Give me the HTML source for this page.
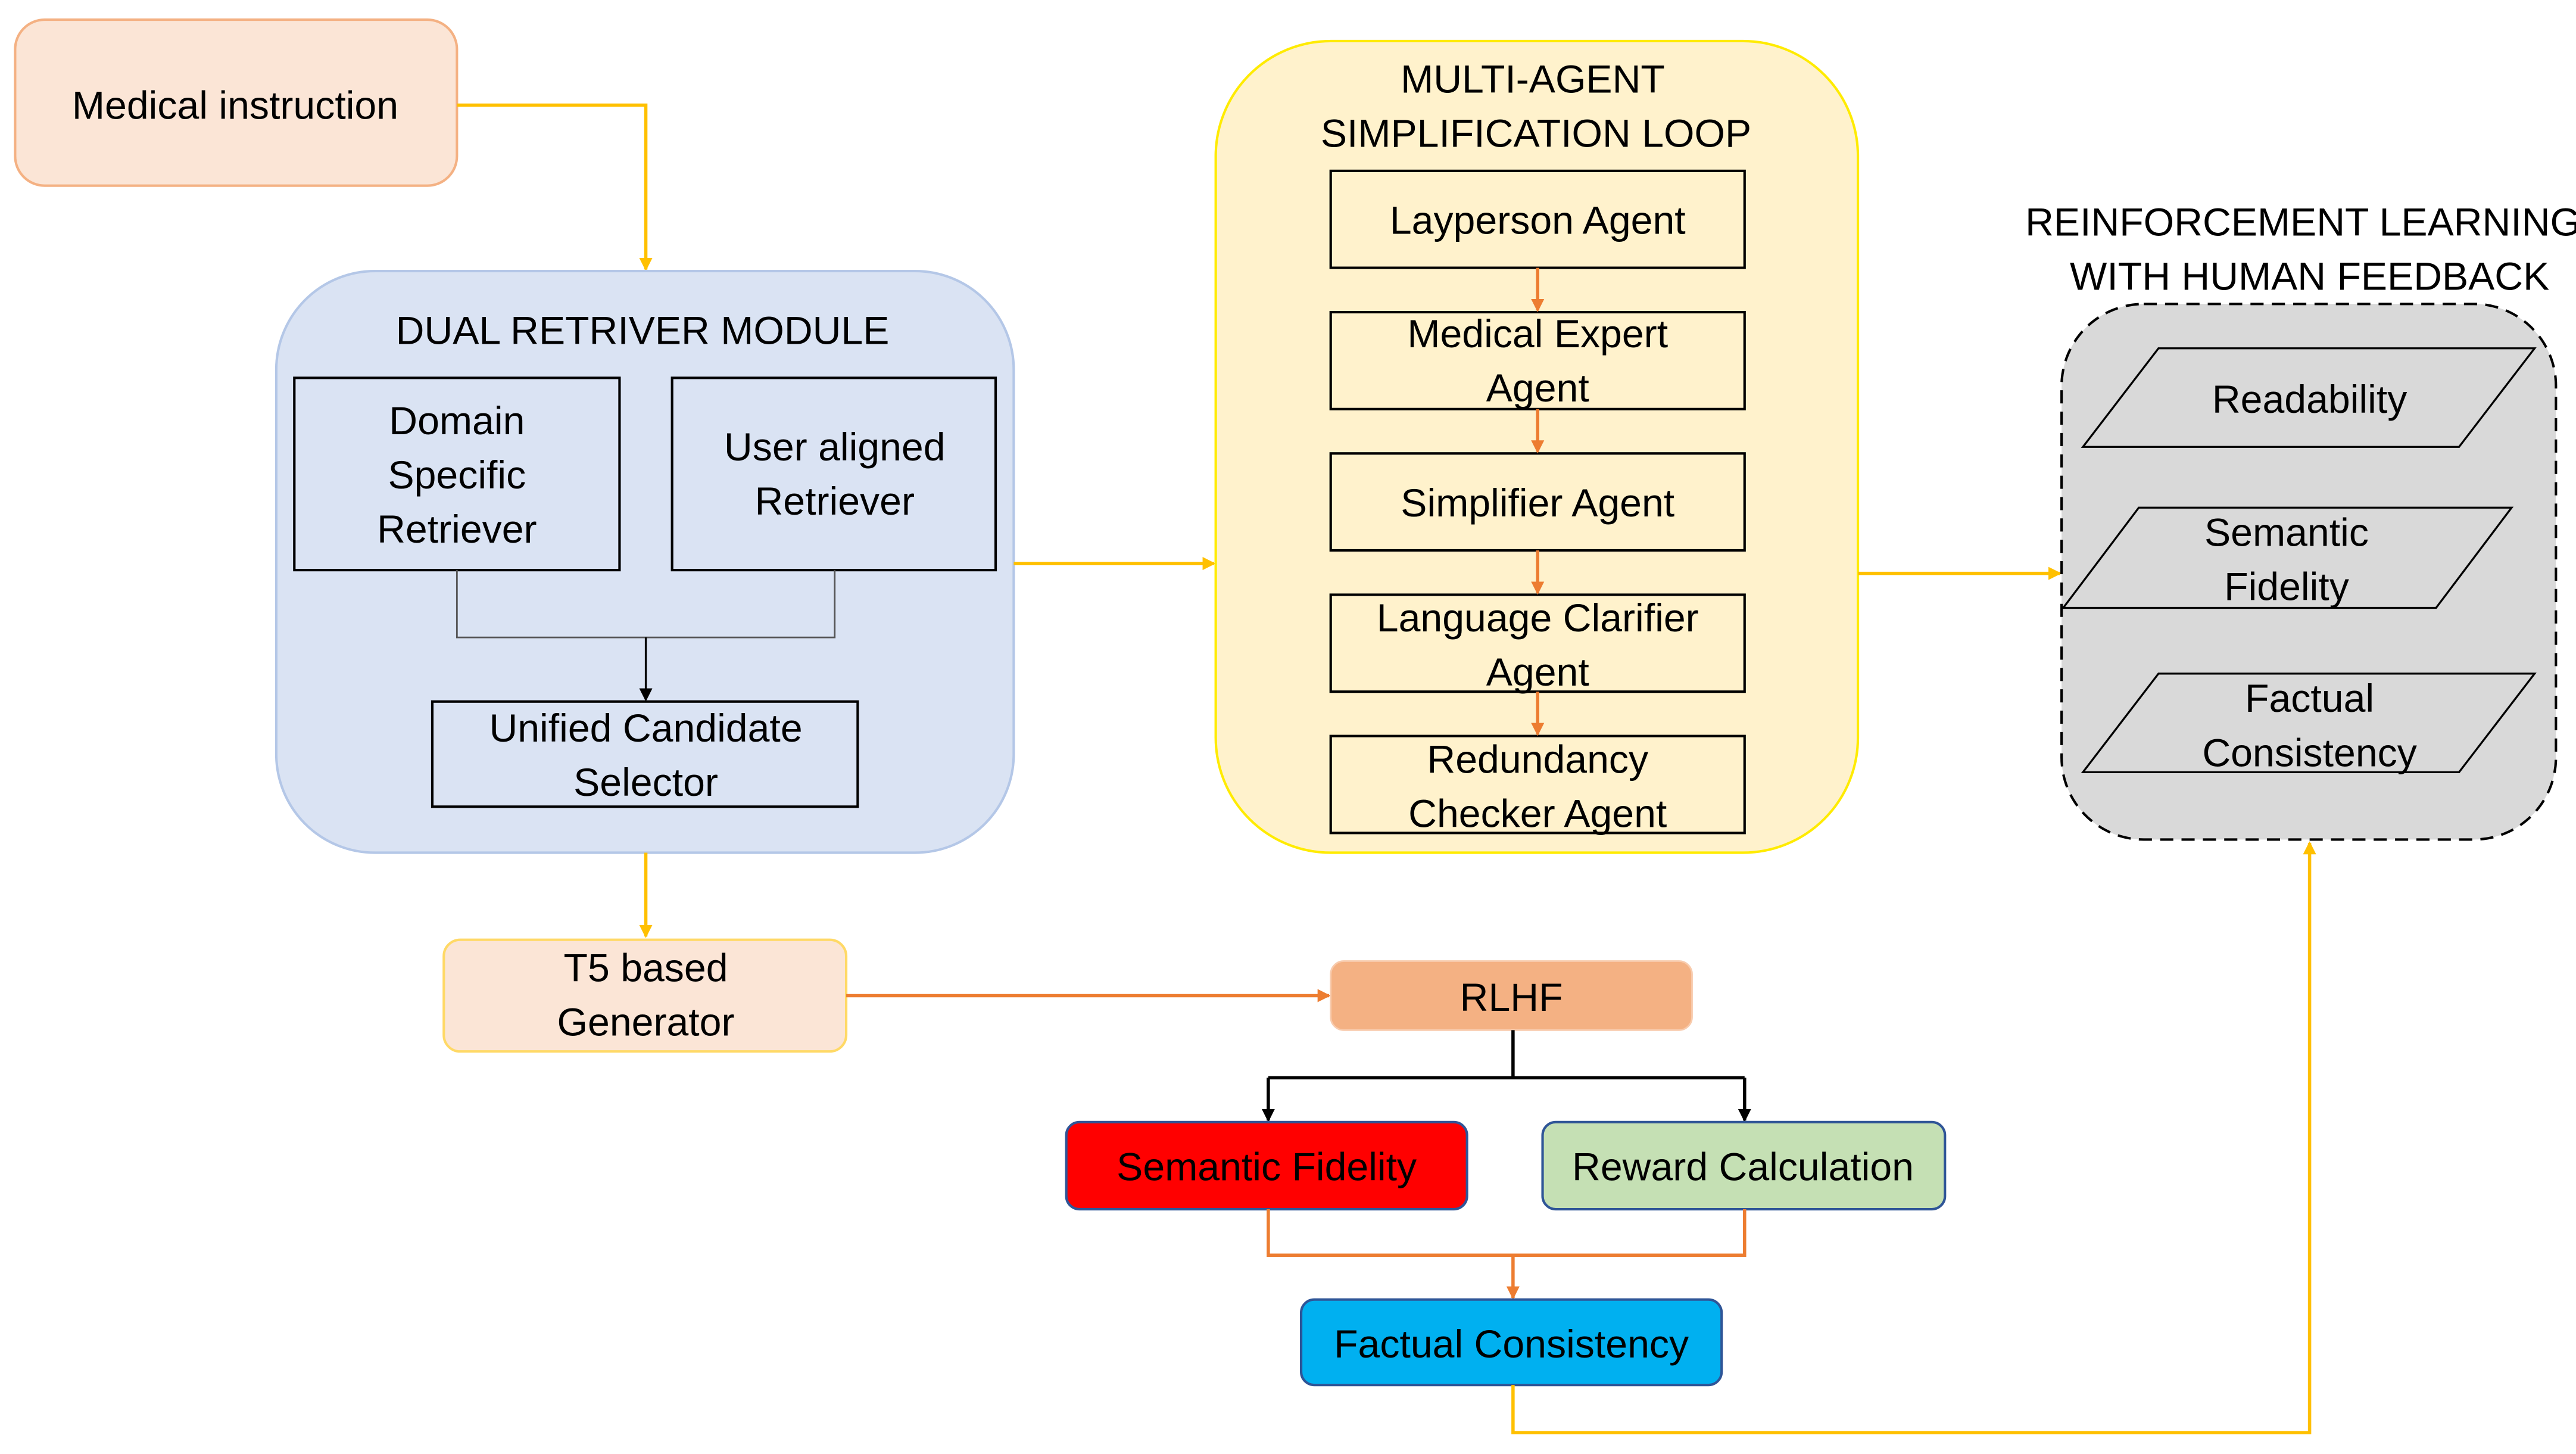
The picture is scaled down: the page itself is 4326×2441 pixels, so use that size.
<!DOCTYPE html>
<html><head><meta charset="utf-8"><style>
html,body{margin:0;padding:0;background:#fff;}
svg{display:block;}
text{font-family:"Liberation Sans",sans-serif;font-size:24px;fill:#000;text-anchor:middle;dominant-baseline:middle;}
</style></head><body>
<svg width="4326" height="2441" viewBox="0 0 1568 885" xmlns="http://www.w3.org/2000/svg">
<defs>
<marker id="ay" markerWidth="8" markerHeight="8" refX="7" refY="4" orient="auto" markerUnits="userSpaceOnUse"><path d="M0,0 L8,4 L0,8 z" fill="#ffc000"/></marker>
<marker id="ao" markerWidth="8" markerHeight="8" refX="7" refY="4" orient="auto" markerUnits="userSpaceOnUse"><path d="M0,0 L8,4 L0,8 z" fill="#ed7d31"/></marker>
<marker id="ak" markerWidth="8" markerHeight="8" refX="7" refY="4" orient="auto" markerUnits="userSpaceOnUse"><path d="M0,0 L8,4 L0,8 z" fill="#000"/></marker>
</defs>
<g transform="translate(0,0)">
<rect x="9" y="12" width="269" height="101" rx="18" fill="#fbe5d6" stroke="#f4b183" stroke-width="1.5"/>
<polyline points="278,64 393,64 393,164" fill="none" stroke="#ffc000" stroke-width="2" marker-end="url(#ay)"/>
<rect x="168" y="165" width="449" height="354" rx="60" fill="#dae3f3" stroke="#b4c7e7" stroke-width="1.5"/>
<rect x="179" y="230" width="198" height="117" fill="none" stroke="#000" stroke-width="1.5"/>
<rect x="409" y="230" width="197" height="117" fill="none" stroke="#000" stroke-width="1.5"/>
<polyline points="278,347 278,388 508,388 508,347" fill="none" stroke="#555" stroke-width="1"/>
<line x1="393" y1="388" x2="393" y2="426" stroke="#000" stroke-width="1.2" marker-end="url(#ak)"/>
<rect x="263" y="427" width="259" height="64" fill="none" stroke="#000" stroke-width="1.5"/>
<line x1="393" y1="519" x2="393" y2="570" stroke="#ffc000" stroke-width="2" marker-end="url(#ay)"/>
<line x1="617" y1="343" x2="739" y2="343" stroke="#ffc000" stroke-width="2" marker-end="url(#ay)"/>
<rect x="270" y="572" width="245" height="68" rx="10" fill="#fbe5d6" stroke="#ffd966" stroke-width="1.5"/>
<line x1="515" y1="606" x2="809" y2="606" stroke="#ed7d31" stroke-width="2" marker-end="url(#ao)"/>
<rect x="810" y="585" width="220" height="42" rx="8" fill="#f4b183" stroke="#f8cbad" stroke-width="1"/>
<line x1="921" y1="627" x2="921" y2="656" stroke="#000" stroke-width="2"/>
<line x1="772" y1="656" x2="1062" y2="656" stroke="#000" stroke-width="2"/>
<line x1="772" y1="656" x2="772" y2="682" stroke="#000" stroke-width="2" marker-end="url(#ak)"/>
<line x1="1062" y1="656" x2="1062" y2="682" stroke="#000" stroke-width="2" marker-end="url(#ak)"/>
<rect x="649" y="683" width="244" height="53" rx="8" fill="#ff0000" stroke="#2f5597" stroke-width="1.5"/>
<rect x="939" y="683" width="245" height="53" rx="8" fill="#c5e0b4" stroke="#2f5597" stroke-width="1.5"/>
<polyline points="772,736 772,764 1062,764 1062,736" fill="none" stroke="#ed7d31" stroke-width="2"/>
<line x1="921" y1="764" x2="921" y2="790" stroke="#ed7d31" stroke-width="2" marker-end="url(#ao)"/>
<rect x="792" y="791" width="256" height="52" rx="8" fill="#00b0f0" stroke="#2f5597" stroke-width="1.5"/>
<polyline points="921,843 921,872 1406,872 1406,513" fill="none" stroke="#ffc000" stroke-width="2" marker-end="url(#ay)"/>
<rect x="740" y="25" width="391" height="494" rx="70" fill="#fff2cc" stroke="#ffeb00" stroke-width="1.5"/>
<rect x="810" y="104" width="252" height="59" fill="none" stroke="#000" stroke-width="1.5"/>
<rect x="810" y="190" width="252" height="59" fill="none" stroke="#000" stroke-width="1.5"/>
<rect x="810" y="276" width="252" height="59" fill="none" stroke="#000" stroke-width="1.5"/>
<rect x="810" y="362" width="252" height="59" fill="none" stroke="#000" stroke-width="1.5"/>
<rect x="810" y="448" width="252" height="59" fill="none" stroke="#000" stroke-width="1.5"/>
<line x1="936" y1="163" x2="936" y2="189" stroke="#ed7d31" stroke-width="2" marker-end="url(#ao)"/>
<line x1="936" y1="249" x2="936" y2="275" stroke="#ed7d31" stroke-width="2" marker-end="url(#ao)"/>
<line x1="936" y1="335" x2="936" y2="361" stroke="#ed7d31" stroke-width="2" marker-end="url(#ao)"/>
<line x1="936" y1="421" x2="936" y2="447" stroke="#ed7d31" stroke-width="2" marker-end="url(#ao)"/>
<line x1="1131" y1="349" x2="1254" y2="349" stroke="#ffc000" stroke-width="2" marker-end="url(#ay)"/>
<rect x="1255" y="185" width="301" height="326" rx="50" fill="#d9d9d9" stroke="#000" stroke-width="1.5" stroke-dasharray="8,5"/>
<polygon points="1268,272 1314,212 1543,212 1497,272" fill="none" stroke="#000" stroke-width="1.2"/>
<polygon points="1256,370 1302,309 1529,309 1483,370" fill="none" stroke="#000" stroke-width="1.2"/>
<polygon points="1268,470 1314,410 1543,410 1497,470" fill="none" stroke="#000" stroke-width="1.2"/>
</g>
<g transform="translate(0,2)">
<text x="143" y="64">Medical instruction</text>
<text x="391" y="201">DUAL RETRIVER MODULE</text>
<text x="278" y="256">Domain</text><text x="278" y="289">Specific</text><text x="278" y="322">Retriever</text>
<text x="508" y="272">User aligned</text><text x="508" y="305">Retriever</text>
<text x="393" y="443">Unified Candidate</text><text x="393" y="476">Selector</text>
<text x="393" y="589">T5 based</text><text x="393" y="622">Generator</text>
<text x="920" y="607">RLHF</text>
<text x="771" y="710">Semantic Fidelity</text>
<text x="1061" y="710">Reward Calculation</text>
<text x="920" y="818">Factual Consistency</text>
<text x="933" y="48">MULTI-AGENT</text><text x="935" y="81">SIMPLIFICATION LOOP</text>
<text x="936" y="134">Layperson Agent</text>
<text x="936" y="203">Medical Expert</text><text x="936" y="236">Agent</text>
<text x="936" y="306">Simplifier Agent</text>
<text x="936" y="376">Language Clarifier</text><text x="936" y="409">Agent</text>
<text x="936" y="462">Redundancy</text><text x="936" y="495">Checker Agent</text>
<text x="1402" y="135">REINFORCEMENT LEARNING</text><text x="1406" y="168">WITH HUMAN FEEDBACK</text>
<text x="1406" y="243">Readability</text>
<text x="1392" y="324">Semantic</text><text x="1392" y="357">Fidelity</text>
<text x="1406" y="425">Factual</text><text x="1406" y="458">Consistency</text>
</g>
</svg>
</body></html>
